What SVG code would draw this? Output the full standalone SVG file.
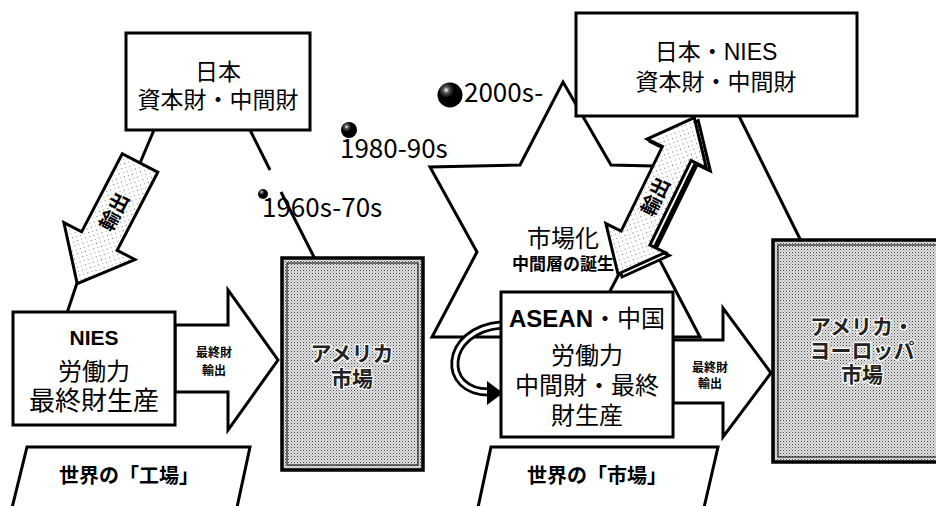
<svg xmlns="http://www.w3.org/2000/svg" width="936" height="506" viewBox="0 0 936 506">
<style>
.box{fill:#fff;stroke:#000;stroke-width:3}
.ln{fill:none;stroke:#000;stroke-width:3}
.ar{fill:url(#light);stroke:#000;stroke-width:3;stroke-linejoin:miter}
.mk{fill:url(#dense);stroke:#000;stroke-width:3.5}
.mki{fill:none;stroke:#000;stroke-width:1}
.jp{font-family:"Liberation Sans","Noto Sans CJK JP",sans-serif;text-anchor:middle;fill:#000}
.b{font-weight:bold}
.mt{font-family:"Liberation Sans","Noto Sans CJK JP",sans-serif;text-anchor:middle;font-weight:bold;fill:#222;stroke:#fff;stroke-width:2.5;paint-order:stroke}
.yr{font-family:"Noto Sans CJK JP","Noto Sans",sans-serif;font-size:26px;fill:#000}
</style>
<defs>
<pattern id="light" width="6" height="6" patternUnits="userSpaceOnUse"><rect width="6" height="6" fill="#fff"/><rect x="1" y="1" width="1" height="1" fill="#666"/><rect x="4" y="4" width="1" height="1" fill="#999"/></pattern>
<pattern id="dense" width="3" height="3" patternUnits="userSpaceOnUse"><rect width="3" height="3" fill="#e4e4e4"/><rect x="0" y="0" width="1" height="1" fill="#444"/><rect x="1.5" y="1.5" width="1" height="1" fill="#777"/></pattern>
<radialGradient id="ball" cx="0.35" cy="0.3" r="0.7"><stop offset="0" stop-color="#fff"/><stop offset="0.18" stop-color="#555"/><stop offset="0.45" stop-color="#000"/></radialGradient>
</defs>

<g id="star">
<polygon points="563,82 611,165 696,167 655,251 700,337 606,337 563,420 520,337 432,337 477,252 430,167 520,165" fill="#fff" stroke="#000" stroke-width="3"/>
<text class="jp" x="563" y="247" font-size="24">市場化<tspan class="b" x="563" dy="23" font-size="17">中間層の誕生</tspan></text>
</g>

<g id="connectors">
<line class="ln" x1="154" y1="130" x2="140" y2="163"/>
<line class="ln" x1="77" y1="283" x2="67" y2="313"/>
<line class="ln" x1="250" y1="130" x2="270" y2="170"/>
<line class="ln" x1="281" y1="192" x2="315" y2="259"/>
<line class="ln" x1="739" y1="116" x2="801" y2="241"/>
<line class="ln" x1="609" y1="293" x2="619" y2="274"/>
<g transform="translate(140,163) rotate(117.5)">
<polygon class="ar" points="0,-20 88,-20 88,-40 136,0 88,40 88,20 0,20"/>
<text class="jp b" transform="translate(55,0) rotate(180)" y="7" font-size="20">輸出</text>
</g>
<g transform="translate(622,277) rotate(-64)">
<polygon points="0,0 40,-33 40,-16 134,-16 134,-33 174,0 134,33 134,16 40,16 40,33" fill="#fff" stroke="#000" stroke-width="3"/>
</g>
<g transform="translate(618,274) rotate(-64)">
<polygon class="ar" points="0,0 40,-33 40,-16 134,-16 134,-33 174,0 134,33 134,16 40,16 40,33"/>
<text class="jp b" x="86" y="7" font-size="20">輸出</text>
</g>
<polygon class="box" points="175,325 228,325 228,290 278,360 228,430 228,392 175,392"/>
<text class="jp b" x="214" y="357" font-size="12">最終財<tspan x="214" dy="18">輸出</tspan></text>
<polygon class="box" points="673,340 723,340 723,308 771,373 723,437 723,403 673,403"/>
<text class="jp b" x="710" y="372" font-size="12">最終財<tspan x="710" dy="16">輸出</tspan></text>
<path d="M 501 325 C 443 330, 440 393, 490 392" fill="none" stroke="#000" stroke-width="9"/>
<path d="M 501 325 C 443 330, 440 393, 490 392" fill="none" stroke="#fff" stroke-width="3.5"/>
<polygon points="487,381 503,393 487,405" fill="#000"/>
</g>

<g id="japan">
<rect class="box" x="126" y="33" width="184" height="97"/>
<text class="jp" x="218" y="80" font-size="23">日本<tspan x="218" dy="28">資本財・中間財</tspan></text>
</g>

<g id="nies">
<rect class="box" x="13" y="312" width="162" height="113"/>
<text class="jp" x="94" y="345" font-size="24"><tspan class="b" font-size="21">NIES</tspan><tspan x="94" dy="35">労働力</tspan><tspan x="94" dy="30" font-size="26">最終財生産</tspan></text>
</g>

<g id="america">
<rect class="mk" x="282" y="258" width="141" height="212"/>
<rect class="mki" x="287" y="263" width="131" height="202"/>
<text class="mt" x="352" y="361" font-size="21">アメリカ<tspan x="352" dy="25">市場</tspan></text>
</g>

<g id="japan-nies">
<rect class="box" x="576" y="13" width="281" height="103"/>
<text class="jp" x="716" y="60" font-size="23">日本・NIES<tspan x="716" dy="30">資本財・中間財</tspan></text>
</g>

<g id="asean">
<rect class="box" x="501" y="292" width="172" height="145"/>
<text class="jp" x="587" y="327" font-size="24"><tspan font-weight="bold">ASEAN</tspan>・中国<tspan x="587" dy="37">労働力</tspan><tspan x="587" dy="30">中間財・最終</tspan><tspan x="587" dy="30">財生産</tspan></text>
</g>

<g id="america-europe">
<rect class="mk" x="773" y="240" width="180" height="222"/>
<rect class="mki" x="778" y="245" width="170" height="212"/>
<text class="mt" x="862" y="334" font-size="21">アメリカ・<tspan x="862" dy="24">ヨーロッパ</tspan><tspan x="862" dy="24">市場</tspan></text>
</g>

<g id="factory">
<polygon class="box" points="27,447 250,447 236,512 11,512"/>
<text class="jp b" x="129" y="483" font-size="20">世界の「工場」</text>
</g>

<g id="market">
<polygon class="box" points="491,447 718,447 703,512 477,512"/>
<text class="jp b" x="597" y="483" font-size="20">世界の「市場」</text>
</g>

<g id="period-1960">
<circle cx="263" cy="194" r="5" fill="url(#ball)"/>
<text class="yr" x="262" y="217">1960s-70s</text>
</g>
<g id="period-1980">
<circle cx="349" cy="130" r="8" fill="url(#ball)"/>
<text class="yr" x="340" y="158">1980-90s</text>
</g>
<g id="period-2000">
<circle cx="450" cy="95" r="12.5" fill="url(#ball)"/>
<text class="yr" x="464" y="102">2000s-</text>
</g>
</svg>
